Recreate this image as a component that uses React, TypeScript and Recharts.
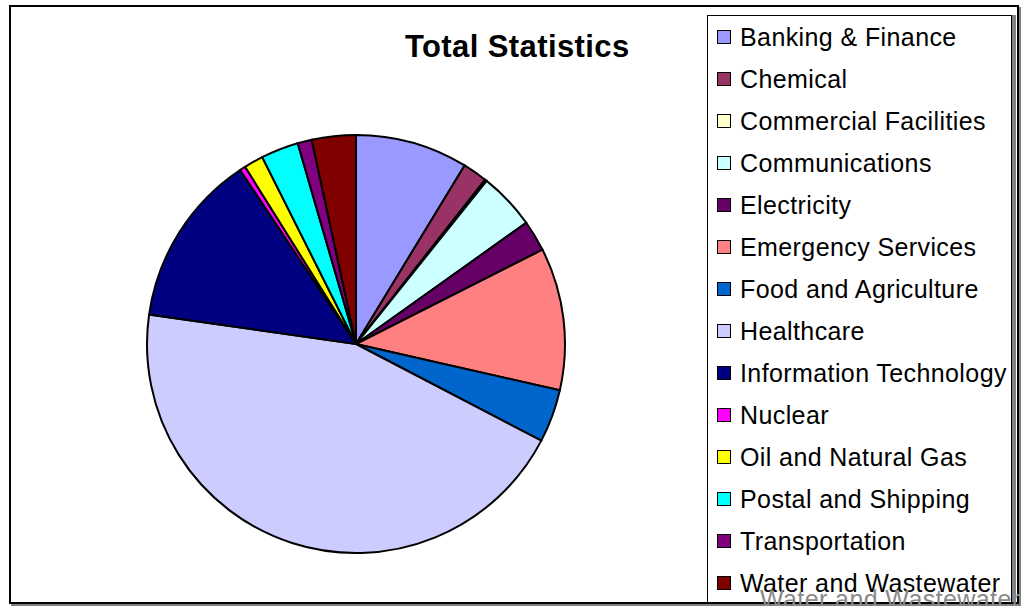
import { PieChart, Pie, Cell, Legend } from "recharts";

const SECTORS = [
  "Banking & Finance",
  "Chemical",
  "Commercial Facilities",
  "Communications",
  "Electricity",
  "Emergency Services",
  "Food and Agriculture",
  "Healthcare",
  "Information Technology",
  "Nuclear",
  "Oil and Natural Gas",
  "Postal and Shipping",
  "Transportation",
  "Water and Wastewater",
];

// share of total
const SHARES = [8.7, 1.9, 0.15, 4.4, 2.4, 11.0, 4.1, 44.6, 13.4, 0.45, 1.5, 2.9, 1.1, 3.4];

const COLORS = [
  "#9999FF",
  "#993366",
  "#FFFFCC",
  "#CCFFFF",
  "#660066",
  "#FF8080",
  "#0066CC",
  "#CCCCFF",
  "#000080",
  "#FF00FF",
  "#FFFF00",
  "#00FFFF",
  "#800080",
  "#800000",
];

const data = SECTORS.map((name, i) => ({ name, value: SHARES[i], fill: COLORS[i] }));

const FONT = "'Liberation Sans', Arial, sans-serif";

const LegendBox = () => (
  <div
    style={{
      width: 303,
      height: 620,
      border: "1px solid #000",
      background: "#fff",
      boxShadow: "4px 0 0 #808080",
      fontFamily: FONT,
      fontSize: 25,
      letterSpacing: "0.4px",
      color: "#000",
    }}
  >
    {SECTORS.map((name, i) => (
      <div key={name} style={{ height: 42, lineHeight: "42px", display: "flex", alignItems: "center", whiteSpace: "nowrap" }}>
        <span
          style={{
            width: 12,
            height: 12,
            marginLeft: 9,
            marginRight: 9,
            border: "1px solid #000",
            background: COLORS[i],
            flexShrink: 0,
          }}
        />
        <span>{name}</span>
      </div>
    ))}
  </div>
);

export default function App() {
  return (
    <div
      style={{
        position: "fixed",
        left: 0,
        top: 0,
        width: 1023,
        height: 606,
        overflow: "hidden",
        background: "#fff",
      }}
    >
      <div style={{ position: "absolute", left: 0, top: 0 }}>
        <PieChart width={1023} height={606} margin={{ top: 0, right: 0, bottom: 0, left: 0 }}>
          <Pie
            data={data}
            dataKey="value"
            nameKey="name"
            cx={356}
            cy={344}
            outerRadius={209}
            startAngle={90}
            endAngle={-270}
            stroke="#000"
            strokeWidth={2}
            isAnimationActive={false}
            legendType="square"
          >
            {data.map((d) => (
              <Cell key={d.name} fill={d.fill} />
            ))}
          </Pie>
          <Legend
            layout="vertical"
            align="right"
            verticalAlign="top"
            content={() => <LegendBox />}
            wrapperStyle={{ left: 707, top: 15, width: 310 }}
          />
        </PieChart>
      </div>

      {/* chart frame */}
      <div
        style={{
          position: "absolute",
          left: 9,
          top: 5,
          width: 1006,
          height: 595,
          border: "2px solid #000",
          boxShadow: "2px 2px 0 #808080",
          pointerEvents: "none",
        }}
      />

      <div
        style={{
          position: "absolute",
          left: 405,
          top: 31,
          fontFamily: FONT,
          fontSize: 31,
          lineHeight: "31px",
          fontWeight: "bold",
          letterSpacing: "0.4px",
          whiteSpace: "nowrap",
          color: "#000",
        }}
      >
        Total Statistics
      </div>

      {/* stray duplicate label at the bottom edge */}
      <div
        style={{
          position: "absolute",
          left: 760,
          top: 587,
          fontFamily: FONT,
          fontSize: 25,
          lineHeight: "25px",
          letterSpacing: "0.4px",
          whiteSpace: "nowrap",
          color: "#8a8a8a",
        }}
      >
        Water and Wastewater
      </div>
    </div>
  );
}
